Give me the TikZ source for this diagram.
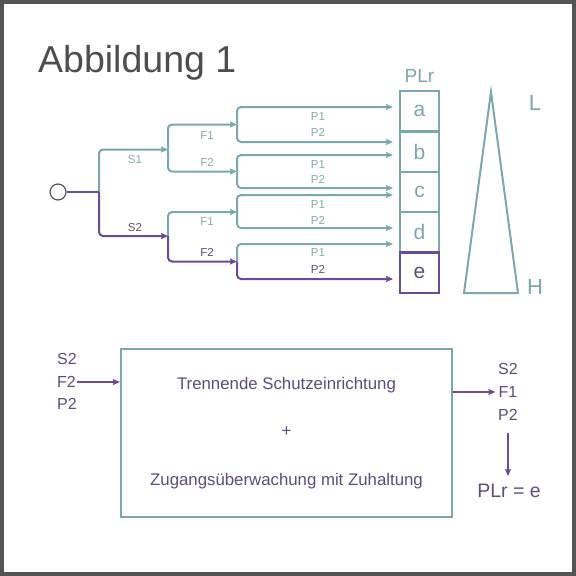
\documentclass[tikz,border=0pt]{standalone}
\usepackage{fontspec}
\setmainfont{Liberation Sans}
\usetikzlibrary{arrows.meta}
\definecolor{tealc}{HTML}{7BA7AE}
\definecolor{tealt}{HTML}{86AAB0}
\definecolor{purp}{HTML}{6A4C90}
\definecolor{purpt}{HTML}{5E4D78}
\definecolor{titlec}{HTML}{4D4D4D}
\definecolor{framec}{HTML}{555555}
\tikzset{
  tl/.style={draw=tealc, line width=2pt, rounded corners=4pt},
  pl/.style={draw=purp, line width=2pt, rounded corners=4pt},
  arr/.style={-{Stealth[length=7pt,width=6pt,inset=1pt]}},
  lbl/.style={font=\fontsize{11.5}{12}\selectfont, text=tealt, inner sep=0pt},
  lblp/.style={font=\fontsize{11.5}{12}\selectfont, text=purpt, inner sep=0pt},
  plbox/.style={draw=tealc, line width=2.4pt, minimum width=39pt, minimum height=40.4pt, outer sep=0pt, inner sep=0pt, text=tealc, font=\fontsize{21}{22}\selectfont},
  btxt/.style={font=\fontsize{16.8}{18}\selectfont, text=purpt, inner sep=0pt},
  stxt/.style={font=\fontsize{16}{17}\selectfont, text=purpt, inner sep=0pt},
}
\begin{document}
\begin{tikzpicture}[x=1pt,y=-1pt]
\useasboundingbox (0,0) rectangle (576,576);
\fill[white] (0,0) rectangle (576,576);
\draw[framec, line width=4pt] (2,2) rectangle (574,574);
% title
\node[anchor=base west, inner sep=0pt, text=titlec, font=\fontsize{37.5}{40}\selectfont] (title) at (38,72) {Abbildung 1};
% tree
\node[circle, draw=framec, line width=1.2pt, minimum size=16pt, inner sep=0pt, fill=white] (start) at (58,192) {};
\coordinate (j0) at (99,192);
\coordinate (j1) at (168,149.5);
\coordinate (j2) at (168,236);
\coordinate (g1) at (237,124.5);
\coordinate (g2) at (237,171.5);
\coordinate (g3) at (237,212);
\coordinate (g4) at (237,261.5);
% boxes
\node[plbox] (a) at (419.5,111.2) {a};
\node[plbox] (b) at (419.5,151.6) {b};
\node[plbox] (c) at (419.5,192.0) {c};
\node[plbox] (d) at (419.5,232.4) {d};
\node[plbox, draw=purp, text=purpt] (e) at (419.5,272.8) {e};
\node[text=tealc, font=\fontsize{19}{20}\selectfont, inner sep=0pt] (plr) at (419.5,76) {PLr};
% teal branches
\draw[tl,arr] (j0) |- (j1);
\draw[tl,arr] (j1) |- (g1);
\draw[tl,arr] (j1) |- (g2);
\draw[tl,arr] (j2) |- (g3);
\draw[tl,arr] (g1) |- ([xshift=-7pt]a.west |- 0,107);
\draw[tl,arr] (g1) |- ([xshift=-7pt]b.west |- 0,142);
\draw[tl,arr] (g2) |- ([xshift=-7pt]b.west |- 0,155);
\draw[tl,arr] (g2) |- ([xshift=-7pt]c.west |- 0,188);
\draw[tl,arr] (g3) |- ([xshift=-7pt]c.west |- 0,195);
\draw[tl,arr] (g3) |- ([xshift=-7pt]d.west |- 0,228);
\draw[tl,arr] (g4) |- ([xshift=-7pt]d.west |- 0,244);
% purple path
\draw[pl] (start) -- (j0);
\draw[pl,arr] (j0) |- (j2);
\draw[pl,arr] (j2) |- (g4);
\draw[pl,arr] (g4) |- ([xshift=-7pt]e.west |- 0,279);
% labels
\node[lbl] (s1) at (135,160) {S1};
\node[lblp] (s2) at (135,228) {S2};
\node[lbl] (f1a) at (207,136) {F1};
\node[lbl] (f2a) at (207,162) {F2};
\node[lbl] (f1b) at (207,222) {F1};
\node[lblp] (f2b) at (207,252) {F2};
\node[lbl] (p11) at (318,117) {P1};
\node[lbl] (p21) at (318,132) {P2};
\node[lbl] (p12) at (318,165) {P1};
\node[lbl] (p22) at (318,179) {P2};
\node[lbl] (p13) at (318,205) {P1};
\node[lbl] (p23) at (318,220) {P2};
\node[lbl] (p14) at (318,253) {P1};
\node[lblp] (p24) at (318,269) {P2};
% triangle
\draw[tealc, line width=2pt, line join=miter] (491,92) -- (518,293) -- (464,293) -- cycle;
\node[text=tealc, font=\fontsize{22}{24}\selectfont, inner sep=0pt] (L) at (535,103) {L};
\node[text=tealc, font=\fontsize{22}{24}\selectfont, inner sep=0pt] (H) at (535,287) {H};
% bottom
\node[draw=tealc, line width=2.2pt, minimum width=331pt, minimum height=168pt, inner sep=0pt] (bx) at (286.5,433) {};
\node[btxt] (t1) at (286.5,385) {Trennende Schutzeinrichtung};
\node[btxt] (t2) at (286.5,432) {+};
\node[btxt] (t3) at (286.5,481) {Zugangsüberwachung mit Zuhaltung};
\node[stxt, anchor=west] (ls2) at (57,359) {S2};
\node[stxt, anchor=west] (lf2) at (57,382) {F2};
\node[stxt, anchor=west] (lp2) at (57,404) {P2};
\draw[purp, line width=2pt, arr] ([xshift=1pt]lf2.east) -- (bx.west |- lf2.east);
\node[stxt] (rs2) at (508,369) {S2};
\node[stxt] (rf1) at (508,392) {F1};
\node[stxt] (rp2) at (508,415) {P2};
\draw[purp, line width=2pt, arr] (bx.east |- rf1.west) -- ([xshift=-3pt]rf1.west);
\node[btxt, font=\fontsize{19.5}{21}\selectfont] (res) at (509,491) {PLr = e};
\coordinate (dtop) at (508,433);
\coordinate (dbot) at (508,476);
\draw[purp, line width=2pt, arr] (dtop) -- (dbot);
\end{tikzpicture}
\end{document}
